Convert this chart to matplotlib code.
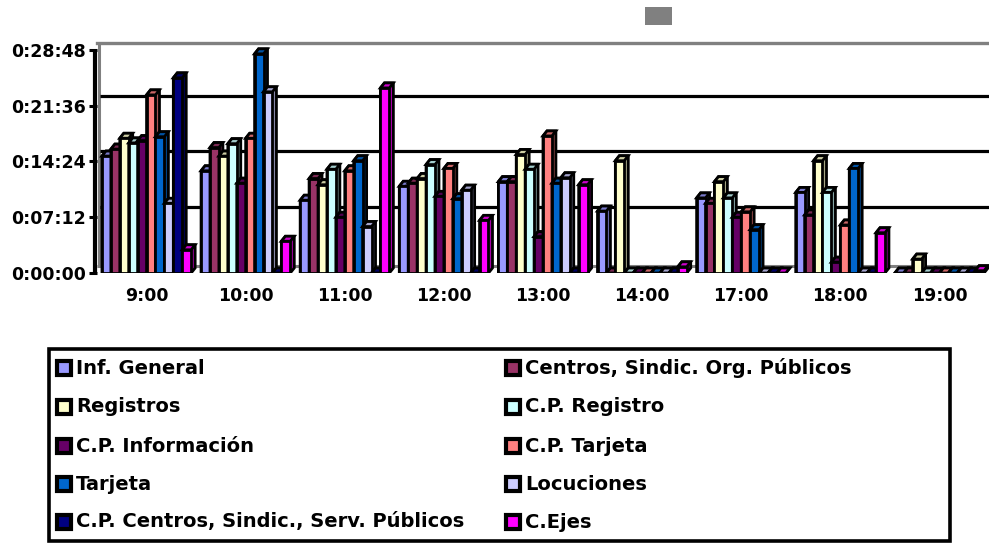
import matplotlib
matplotlib.use("Agg")
import matplotlib.pyplot as plt
from matplotlib.patches import Polygon, Rectangle
from matplotlib.ticker import FixedLocator, FuncFormatter
from matplotlib.colors import to_rgb

# ---------------- data ----------------
categories = ["9:00", "10:00", "11:00", "12:00", "13:00", "14:00", "17:00", "18:00", "19:00"]
series_names = ["Inf. General", "Centros, Sindic. Org. Públicos", "Registros", "C.P. Registro",
                "C.P. Información", "C.P. Tarjeta", "Tarjeta", "Locuciones",
                "C.P. Centros, Sindic., Serv. Públicos", "C.Ejes"]
series_colors = ["#9999FF", "#993366", "#FFFFCC", "#CCFFFF", "#660066",
                 "#FF8080", "#0066CC", "#CCCCFF", "#000080", "#FF00FF"]

# average times in minutes, one list per series (order of categories)
inf_general    = [15.1, 13.2, 9.4, 11.2, 11.8, 8.0, 9.7, 10.4, 0.0]
centros        = [16.0, 16.2, 12.2, 11.6, 11.8, 0.0, 9.0, 7.5, 0.0]
registros      = [17.4, 15.1, 11.4, 12.2, 15.3, 14.5, 11.8, 14.5, 1.8]
cp_registro    = [16.8, 16.7, 13.4, 14.0, 13.4, 0.0, 9.7, 10.4, 0.0]
cp_informacion = [17.1, 11.6, 7.2, 9.9, 4.7, 0.0, 7.2, 1.4, 0.0]
cp_tarjeta     = [23.0, 17.4, 13.2, 13.5, 17.7, 0.0, 7.9, 6.2, 0.0]
tarjeta        = [17.6, 28.3, 14.5, 9.6, 11.6, 0.0, 5.6, 13.5, 0.0]
locuciones     = [9.0, 23.4, 6.0, 10.7, 12.3, 0.0, 0.0, 0.0, 0.0]
cp_centros     = [25.2, 0.0, 0.0, 0.0, 0.0, 0.0, 0.0, 0.0, 0.0]
c_ejes         = [3.0, 4.1, 23.9, 6.8, 11.4, 0.8, 0.0, 5.2, 0.3]

series_values = [inf_general, centros, registros, cp_registro, cp_informacion,
                 cp_tarjeta, tarjeta, locuciones, cp_centros, c_ejes]

y_ticks_sec = [0, 432, 864, 1296, 1728]

# ---------------- figure ----------------
plt.rcParams['font.family'] = ['DejaVu Sans']
plt.rcParams['font.weight'] = 'bold'

W, H = 989, 545
fig = plt.figure(figsize=(W / 100, H / 100), dpi=100)
fig.patch.set_facecolor("white")

ax_left, ax_right, ax_top, ax_bottom = 97, 989, 43, 273
ax = fig.add_axes([ax_left / W, (H - ax_bottom) / H, (ax_right - ax_left) / W, (ax_bottom - ax_top) / H])
ymax = 1728 + 54
ax.set_xlim(-0.5, len(categories) - 0.5)
ax.set_ylim(0, ymax)

px_x = (len(categories)) / (ax_right - ax_left)   # data units per pixel (x)
px_y = ymax / (ax_bottom - ax_top)                 # seconds per pixel (y)

bar_w = 0.09
dx = 4 * px_x
dy = 5 * px_y


def shade(c, f):
    r, g, b = to_rgb(c)
    return (r * f, g * f, b * f)


# back wall: floor, gridlines, top, left edge
grey = "#808080"
ax.plot([-0.5, len(categories) - 0.5], [7.5 * px_y] * 2, color=grey, lw=2.2, zorder=0.5, solid_capstyle='butt')
for t in y_ticks_sec[1:-1]:
    ax.plot([-0.5 + 3 * px_x, len(categories) - 0.5], [t + 10 * px_y] * 2, color="black", lw=2.3,
            zorder=0.6, solid_capstyle='butt')
for s in ["right", "bottom", "left"]:
    ax.spines[s].set_visible(False)
ax.spines["top"].set_color(grey)
ax.spines["top"].set_linewidth(2.4)
ax.plot([-0.5 + 1.5 * px_x] * 2, [7.5 * px_y, ymax], color=grey, lw=2.2, zorder=0.5,
        solid_capstyle='butt', clip_on=False)
# front value axis line
ax.plot([-0.5 - 2.5 * px_x] * 2, [0, 1728], color="black", lw=3, zorder=5,
        solid_capstyle='butt', clip_on=False)

# 3D-like clustered bars
n = len(series_values)
z = 2
for ci in range(len(categories)):
    start = ci - n * bar_w / 2
    for si in range(n):
        v = series_values[si][ci] * 60.0
        col = series_colors[si]
        x0 = start + si * bar_w
        side = Polygon([(x0, 0), (x0, v), (x0 + dx, v + dy), (x0 + bar_w + dx, v + dy),
                        (x0 + bar_w + dx, dy), (x0 + bar_w, 0)], closed=True,
                       facecolor=shade(col, 0.65), edgecolor="black", lw=2, joinstyle='miter', zorder=z)
        ax.add_patch(side)
        top = Polygon([(x0, v), (x0 + dx, v + dy), (x0 + bar_w + dx, v + dy), (x0 + bar_w, v)],
                      closed=True, facecolor=shade(col, 0.8), edgecolor="black", lw=2,
                      joinstyle='miter', zorder=z + 0.1)
        ax.add_patch(top)
        front = Rectangle((x0, 0), bar_w, v, facecolor=col, edgecolor="black", lw=2,
                          joinstyle='miter', zorder=z + 0.2)
        ax.add_patch(front)
        z += 0.3

# ticks
ax.yaxis.set_major_locator(FixedLocator(y_ticks_sec))


def hms(s, pos=None):
    s = int(round(s))
    return "%d:%02d:%02d" % (s // 3600, (s % 3600) // 60, s % 60)


ax.yaxis.set_major_formatter(FuncFormatter(hms))
ax.tick_params(axis='y', direction='out', length=6, width=2.2, pad=2, labelsize=12.5, color='black')
ax.set_xticks(range(len(categories)))
ax.set_xticklabels(categories)
ax.tick_params(axis='x', length=0, pad=10, labelsize=12.5)
for lab in ax.get_xticklabels() + ax.get_yticklabels():
    lab.set_fontweight('bold')

# grey title placeholder
fig.patches.append(Rectangle((645 / W, (H - 25) / H), 27 / W, 18 / H, transform=fig.transFigure,
                             facecolor=grey, edgecolor='none'))

# legend (two columns, row-major order)
fig.patches.append(Rectangle((49 / W, (H - 541) / H), (950 - 49) / W, (541 - 349) / H,
                             transform=fig.transFigure, facecolor='none', edgecolor='black', lw=2.6))
row_y = [368, 407, 446, 484, 522]
col_mx = [64, 513]
msz = 14
for i, (name, col) in enumerate(zip(series_names, series_colors)):
    r, c = divmod(i, 2)
    cx, cy = col_mx[c], row_y[r]
    fig.patches.append(Rectangle(((cx - msz / 2) / W, (H - cy - msz / 2) / H), msz / W, msz / H,
                                 transform=fig.transFigure, facecolor=col, edgecolor='black', lw=3))
    fig.text((cx + msz / 2 + 5) / W, (H - cy) / H, name, fontsize=14, fontweight='bold',
             va='center', ha='left')

fig.savefig("out.png", dpi=100)
